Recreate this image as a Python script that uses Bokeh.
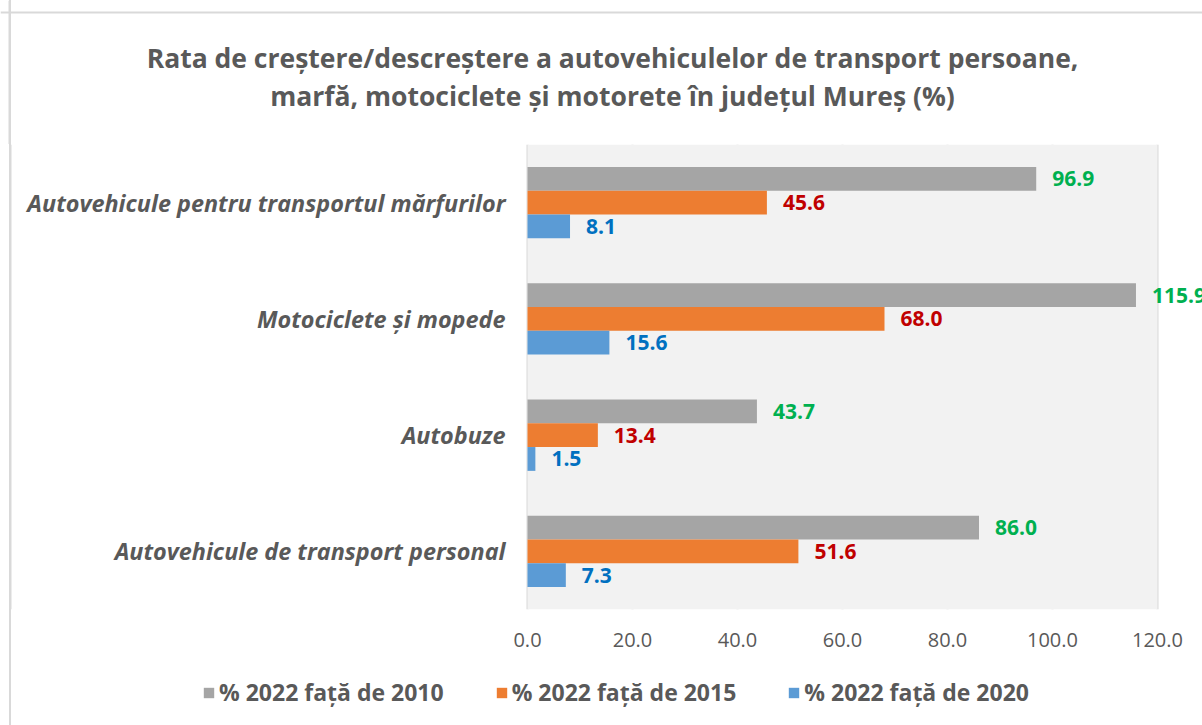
from bokeh.plotting import figure
from bokeh.layouts import column
from bokeh.models import (ColumnDataSource, LabelSet, Legend, LegendItem, FixedTicker,
                          NumeralTickFormatter, Range1d, BoxAnnotation, Label, Span, FactorRange)
from bokeh.core.properties import value
from bokeh.transform import dodge
from bokeh.embed import file_html
from bokeh.resources import INLINE

# ---- data (categories listed bottom to top) ----
categories = ["Autovehicule de transport personal", "Autobuze",
              "Motociclete și mopede", "Autovehicule pentru transportul mărfurilor"]
v2010 = [86.0, 43.7, 115.9, 96.9]
v2015 = [51.6, 13.4, 68.0, 45.6]
v2020 = [7.3, 1.5, 15.6, 8.1]
series_names = ["% 2022 față de 2010", "% 2022 față de 2015", "% 2022 față de 2020"]
x_ticks = [0, 20, 40, 60, 80, 100, 120]
title_lines = ["Rata de creștere/descreștere a autovehiculelor de transport persoane,",
               "marfă, motociclete și motorete în județul Mureș (%)"]

FONT = "Open Sans"
TXT = "#595959"
BORDER = "#d9d9d9"
W = 1202
bar_colors = ["#a5a5a5", "#ed7d31", "#5b9bd5"]
label_colors = ["#00b050", "#c00000", "#0070c0"]
frame_css = {"background": "linear-gradient(90deg, #ffffff 0 9px, #d9d9d9 9px 11px, #ffffff 11px)"}

src = ColumnDataSource(dict(
    cat=categories, v2010=v2010, v2015=v2015, v2020=v2020,
    t2010=[f"{v:.1f}" for v in v2010],
    t2015=[f"{v:.1f}" for v in v2015],
    t2020=[f"{v:.1f}" for v in v2020],
))


def transparent(fig):
    fig.border_fill_alpha = 0
    fig.background_fill_alpha = 0
    fig.outline_line_color = None
    fig.styles = frame_css


# ---------------- title strip ----------------
TH = 144
ph = figure(width=W, height=TH, x_range=Range1d(0, W), y_range=Range1d(TH, 0),
            x_axis_type=None, y_axis_type=None, output_backend="svg", toolbar_location=None,
            min_border=0, title=None)
transparent(ph)
ph.grid.visible = False
ph.add_layout(Span(location=12, dimension="width", line_color=BORDER, line_width=2))
ph.add_layout(Span(location=9, dimension="height", line_color=BORDER, line_width=2))
for line, yy in zip(title_lines, [57, 95]):
    ph.add_layout(Label(x=612, y=yy, text=line, text_align="center", text_baseline="middle",
                        text_font=FONT, text_font_size="26.5px", text_font_style="bold",
                        text_color=TXT))

# ---------------- main chart ----------------
MH = 516
ZERO = 527       # px of value 0
PX = 5.25        # px per unit
p = figure(y_range=categories, x_range=Range1d(-ZERO / PX, (W - ZERO) / PX), width=W, height=MH,
           output_backend="svg", toolbar_location=None, title=None, y_axis_location=None,
           min_border_left=0, min_border_right=0, min_border_top=0, min_border_bottom=51)
transparent(p)
p.add_layout(BoxAnnotation(left=0, right=x_ticks[-1], fill_color="#f2f2f2", fill_alpha=1,
                           line_color=None, level="underlay"))
p.add_layout(Span(location=-(ZERO - 10) / PX, dimension="height", line_color=BORDER, line_width=2))
p.ygrid.grid_line_color = None
p.xgrid.grid_line_color = "#d9d9d9"
p.xgrid.grid_line_width = 2

p.xaxis.ticker = FixedTicker(ticks=x_ticks)
p.xaxis.formatter = NumeralTickFormatter(format="0.0")
p.xaxis.axis_line_color = None
p.xaxis.major_tick_line_color = None
p.xaxis.minor_tick_line_color = None
p.xaxis.major_label_text_font = FONT
p.xaxis.major_label_text_font_size = "20px"
p.xaxis.major_label_text_color = TXT
p.xaxis.major_label_standoff = 17

# category names, right-aligned against value 0
p.add_layout(LabelSet(x=0, y="cat", text="cat", source=src, x_offset=-22,
                      text_align="right", text_baseline="middle", text_font=value(FONT),
                      text_font_size="23.4px", text_font_style="bold italic", text_color=TXT))

BH = 0.205
cols = [("v2010", "t2010", BH), ("v2015", "t2015", 0.0), ("v2020", "t2020", -BH)]
for (col, tcol, off), color, lcolor in zip(cols, bar_colors, label_colors):
    p.hbar(y=dodge("cat", off, range=p.y_range), left=0, right=col, height=BH,
           fill_color=color, line_color=None, source=src)
    p.add_layout(LabelSet(x=col, y=dodge("cat", off, range=p.y_range), text=tcol, source=src,
                          x_offset=16, text_baseline="middle", text_font=value(FONT),
                          text_font_size="21px", text_font_style="bold", text_color=lcolor))

# ---------------- legend strip ----------------
LH = 725 - TH - MH
pl = figure(width=W, height=LH, x_range=Range1d(0, W), y_range=FactorRange(factors=categories),
            x_axis_type=None, y_axis_type=None, output_backend="svg", toolbar_location=None,
            min_border=0, title=None)
transparent(pl)
pl.grid.visible = False
items = []
for (col, _, _), name, color in zip(cols, series_names, bar_colors):
    # hidden twin of each series; it only supplies the legend swatch
    r = pl.hbar(y="cat", left=0, right=col, height=BH, fill_color=color, line_color=None,
                source=src, visible=False)
    items.append(LegendItem(label=name, renderers=[r]))
legend = Legend(items=items, orientation="horizontal", location=(202, 17),
                glyph_width=13, glyph_height=13, label_standoff=4, spacing=51,
                label_height=31, padding=0, margin=0, border_line_color=None,
                background_fill_alpha=0, label_text_font=FONT, label_text_font_size="23px",
                label_text_font_style="bold", label_text_color=TXT)
pl.add_layout(legend)

open("out.html", "w").write(file_html(column(ph, p, pl, spacing=0), INLINE))
